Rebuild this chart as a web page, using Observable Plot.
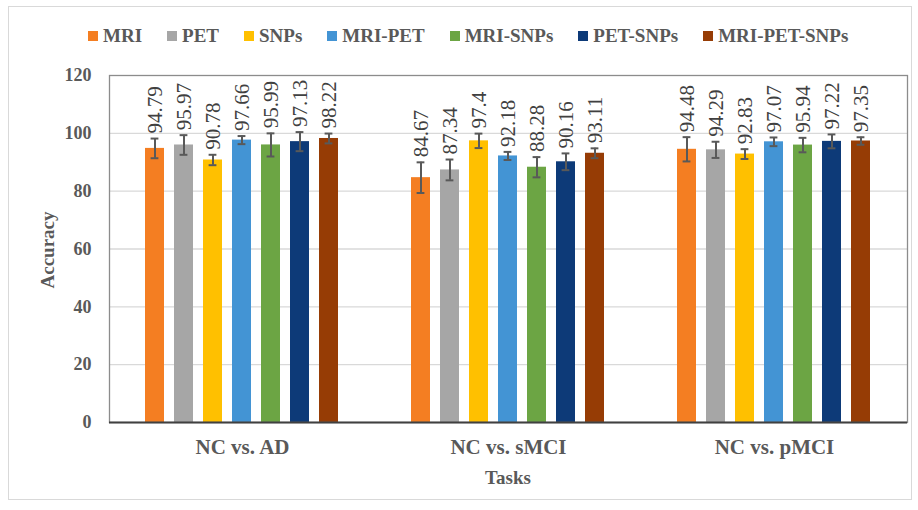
<!DOCTYPE html>
<html>
<head>
<meta charset="utf-8">
<script src="https://cdn.jsdelivr.net/npm/d3@7"></script>
<script src="https://cdn.jsdelivr.net/npm/@observablehq/plot@0.6"></script>
<style>
  body { margin: 0; background: #fff; }
  #wrap { position: relative; width: 918px; height: 510px; overflow: hidden; font-family: "Liberation Serif", "Times New Roman", serif; }
  #border { position: absolute; left: 8px; top: 6px; width: 904px; height: 494px; border: 1px solid #d9d9d9; box-sizing: border-box; }
  #legend { position: absolute; left: 88px; top: 26px; display: flex; gap: 25px; align-items: center; font-weight: bold; font-size: 19px; line-height: 1; color: #595959; white-space: nowrap; }
  .item { display: flex; align-items: center; gap: 5px; }
  .sw { width: 10px; height: 10px; display: inline-block; }
  #chart { position: absolute; left: 0; top: 50px; }
  .axlab { position: absolute; font-weight: bold; font-size: 19px; color: #595959; line-height: 1; white-space: nowrap; }
  #ylab { left: 47px; top: 250px; transform: translate(-50%, -50%) rotate(-90deg); }
  #xlab { left: 508px; top: 477px; transform: translate(-50%, -50%); }
</style>
</head>
<body>
<div id="wrap">
  <div id="border"></div>
  <div id="legend"></div>
  <div id="chart"></div>
  <div class="axlab" id="ylab">Accuracy</div>
  <div class="axlab" id="xlab">Tasks</div>
</div>
<script>
// ---- data ----
const tasks = ["NC vs. AD", "NC vs. sMCI", "NC vs. pMCI"];
const modalities = ["MRI", "PET", "SNPs", "MRI-PET", "MRI-SNPs", "PET-SNPs", "MRI-PET-SNPs"];
const colors = ["#F47E22", "#A6A6A6", "#FFC000", "#4394D4", "#6CA544", "#0D3A78", "#963C05"];
const accAD   = [94.79, 95.97, 90.78, 97.66, 95.99, 97.13, 98.22];
const accSMCI = [84.67, 87.34, 97.4, 92.18, 88.28, 90.16, 93.11];
const accPMCI = [94.48, 94.29, 92.83, 97.07, 95.94, 97.22, 97.35];
const errAD   = [3.4, 3.4, 1.8, 1.4, 4.0, 3.3, 1.7];
const errSMCI = [5.3, 3.6, 2.5, 1.4, 3.5, 2.9, 1.7];
const errPMCI = [4.2, 2.8, 1.7, 1.5, 2.5, 2.4, 1.3];
const yTicks = [0, 20, 40, 60, 80, 100, 120];
const gridTicks = [20, 40, 60, 80, 100];

const accs = [accAD, accSMCI, accPMCI];
const errs = [errAD, errSMCI, errPMCI];
const data = [];
tasks.forEach((t, i) => {
  modalities.forEach((m, j) => {
    data.push({task: t, modality: m, value: accs[i][j], err: errs[i][j]});
  });
});

// ---- legend ----
const legend = document.getElementById("legend");
modalities.forEach((m, j) => {
  const it = document.createElement("div");
  it.className = "item";
  const sw = document.createElement("span");
  sw.className = "sw";
  sw.style.background = colors[j];
  const tx = document.createElement("span");
  tx.textContent = m;
  it.appendChild(sw);
  it.appendChild(tx);
  legend.appendChild(it);
});

// ---- chart ----
const axisColor = "#595959";
const plot = Plot.plot({
  width: 918,
  height: 460,
  marginTop: 25,
  marginBottom: 88,
  marginLeft: 108,
  marginRight: 10,
  style: {fontFamily: "Liberation Serif, Times New Roman, serif", background: "transparent", overflow: "visible"},
  fx: {domain: tasks, padding: 0, label: null},
  x: {domain: modalities, paddingInner: 0.337, paddingOuter: 1.158, axis: null},
  y: {domain: [0, 120], label: null},
  color: {domain: modalities, range: colors},
  marks: [
    Plot.gridY(gridTicks, {stroke: "#d9d9d9", strokeOpacity: 1, strokeWidth: 1.3}),
    Plot.barY(data, {fx: "task", x: "modality", y: "value", fill: "modality"}),
    Plot.ruleX(data, {fx: "task", x: "modality", y1: d => d.value - d.err, y2: d => d.value + d.err, stroke: axisColor, strokeWidth: 2}),
    Plot.tickY(data, {fx: "task", x: "modality", y: d => d.value + d.err, stroke: axisColor, strokeWidth: 2, insetLeft: 5.6, insetRight: 5.6}),
    Plot.tickY(data, {fx: "task", x: "modality", y: d => d.value - d.err, stroke: axisColor, strokeWidth: 2, insetLeft: 5.6, insetRight: 5.6}),
    Plot.text(data, {fx: "task", x: "modality", y: d => d.value + d.err, text: d => String(d.value), rotate: -90, textAnchor: "start", lineAnchor: "middle", dy: -5, fontSize: 21, fill: "#404040"}),
    Plot.frame({facet: "super", stroke: "#8c8c8c", strokeWidth: 1.3}),
    Plot.ruleY([0], {stroke: "#404040", strokeWidth: 2}),
    Plot.axisY({ticks: yTicks, tickSize: 0, tickPadding: 18, fontSize: 18, fontWeight: "bold", fill: axisColor, label: null}),
    Plot.axisFx({anchor: "bottom", tickSize: 0, tickPadding: 17, fontSize: 21, fontWeight: "bold", fill: axisColor, label: null})
  ]
});
document.getElementById("chart").appendChild(plot);
</script>
</body>
</html>
